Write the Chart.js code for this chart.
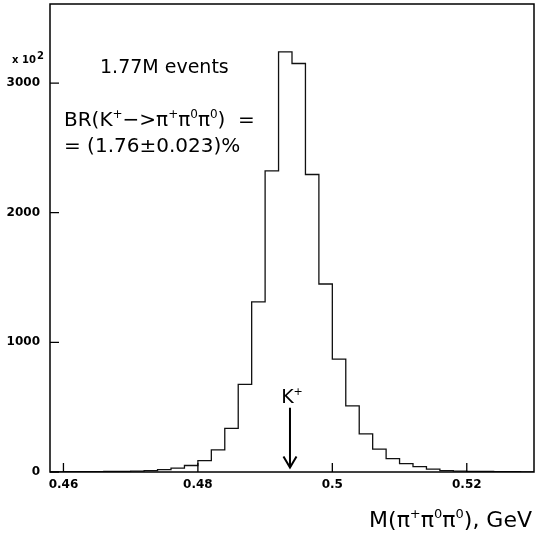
<!DOCTYPE html>
<html>
<head>
<meta charset="utf-8">
<script src="https://cdn.jsdelivr.net/npm/chart.js@4.4.0/dist/chart.umd.min.js"></script>
<style>
  body { margin: 0; background: #fff; }
</style>
</head>
<body>
<canvas id="grafico" width="539" height="540"></canvas>
<script>
// Bordes inferiores de cada bin, en GeV
const binLow = [
  0.458, 0.460, 0.462, 0.464, 0.466, 0.468, 0.470, 0.472, 0.474, 0.476, 0.478, 0.480,
  0.482, 0.484, 0.486, 0.488, 0.490, 0.492, 0.494, 0.496, 0.498, 0.500, 0.502, 0.504,
  0.506, 0.508, 0.510, 0.512, 0.514, 0.516, 0.518, 0.520, 0.522, 0.524, 0.526, 0.528
];
const binHigh = 0.530;

// Cuentas por bin (en unidades de x 10^2)
const cuentas = [
  1, 2, 2, 3, 4, 5, 7, 11, 19, 30, 50, 87,
  170, 337, 676, 1313, 2323, 3241, 3151, 2295, 1450, 870, 510, 294,
  177, 103, 64, 41, 22, 11, 7, 5, 4, 3, 2, 1
];

// Ejes
const xTicks = [0.46, 0.48, 0.50, 0.52];
const xTickLabels = ["0.46", "0.48", "0.5", "0.52"];
const yTicks = [0, 1000, 2000, 3000];
const yMax = 3610;

// Flecha en la masa del K+
const masaK = 0.4937;
const flechaY = [495, 35];

const FUENTE = "'DejaVu Sans', Arial, sans-serif";

// Puntos del histograma (escalonado)
const puntos = binLow.map((x, i) => ({ x: x, y: cuentas[i] }));
puntos.push({ x: binHigh, y: cuentas[cuentas.length - 1] });

// Dibuja texto con superíndices: partes = [[texto, esSup], ...]
function textoRico(ctx, partes, x, y, size, align) {
  const supSize = Math.round(size * 0.6);
  let total = 0;
  partes.forEach(p => {
    ctx.font = (p[1] ? supSize : size) + "px " + FUENTE;
    total += ctx.measureText(p[0]).width;
  });
  let cx = align === "right" ? x - total : (align === "center" ? x - total / 2 : x);
  ctx.textAlign = "left";
  ctx.textBaseline = "alphabetic";
  partes.forEach(p => {
    ctx.font = (p[1] ? supSize : size) + "px " + FUENTE;
    ctx.fillText(p[0], cx, p[1] ? y - size * 0.4 : y);
    cx += ctx.measureText(p[0]).width;
  });
}

const marcoPlugin = {
  id: "marco",
  afterDraw(chart) {
    const ctx = chart.ctx;
    const a = chart.chartArea;
    const sx = chart.scales.x;
    const sy = chart.scales.y;
    ctx.save();
    ctx.strokeStyle = "#000";
    ctx.fillStyle = "#000";
    ctx.lineWidth = 1.5;
    ctx.strokeRect(a.left, a.top, a.right - a.left, a.bottom - a.top);

    // marcas hacia dentro
    ctx.lineWidth = 1.3;
    ctx.beginPath();
    xTicks.forEach(v => {
      const px = sx.getPixelForValue(v);
      ctx.moveTo(px, a.bottom);
      ctx.lineTo(px, a.bottom - 9);
    });
    yTicks.forEach(v => {
      const py = sy.getPixelForValue(v);
      ctx.moveTo(a.left, py);
      ctx.lineTo(a.left + 9, py);
    });
    ctx.stroke();

    // x 10^2
    ctx.font = "bold 10px " + FUENTE;
    ctx.textAlign = "left";
    ctx.textBaseline = "alphabetic";
    ctx.fillText("x 10", 12, 63);
    ctx.fillText("2", 37, 59);

    // anotaciones
    textoRico(ctx, [["1.77M events", false]], 100, 73, 19, "left");
    textoRico(ctx, [["BR(K", false], ["+", true], ["\u2212>\u03c0", false], ["+", true],
      ["\u03c0", false], ["0", true], ["\u03c0", false], ["0", true], [")  =", false]], 64, 126, 20, "left");
    textoRico(ctx, [["= (1.76\u00b10.023)%", false]], 64, 152, 20, "left");

    // flecha K+
    const ax = sx.getPixelForValue(masaK);
    const y0 = sy.getPixelForValue(flechaY[0]);
    const y1 = sy.getPixelForValue(flechaY[1]);
    ctx.lineWidth = 2;
    ctx.beginPath();
    ctx.moveTo(ax, y0);
    ctx.lineTo(ax, y1);
    ctx.moveTo(ax - 6.5, y1 - 11);
    ctx.lineTo(ax, y1);
    ctx.lineTo(ax + 6.5, y1 - 11);
    ctx.stroke();
    textoRico(ctx, [["K", false], ["+", true]], ax + 2, y0 - 5, 19, "center");

    // título eje x
    textoRico(ctx, [["M(\u03c0", false], ["+", true], ["\u03c0", false], ["0", true],
      ["\u03c0", false], ["0", true], ["), GeV", false]], 532, 527, 22, "right");
    ctx.restore();
  }
};

new Chart(document.getElementById("grafico"), {
  type: "line",
  data: {
    datasets: [{
      data: puntos,
      stepped: "before",
      borderColor: "#111",
      borderWidth: 1.3,
      pointRadius: 0,
      fill: false
    }]
  },
  options: {
    responsive: false,
    animation: false,
    layout: { padding: { top: 4, right: 5, left: 0, bottom: 0 } },
    plugins: {
      legend: { display: false },
      tooltip: { enabled: false }
    },
    scales: {
      x: {
        type: "linear",
        min: binLow[0],
        max: binHigh,
        grid: { display: false, drawTicks: false },
        border: { display: false },
        afterBuildTicks: s => { s.ticks = xTicks.map(v => ({ value: v })); },
        afterFit: s => { s.height = 68; s.paddingLeft = 0; s.paddingRight = 0; },
        ticks: {
          padding: 6,
          color: "#000",
          font: { family: FUENTE, size: 12, weight: "bold" },
          maxRotation: 0,
          callback: v => xTickLabels[xTicks.findIndex(t => Math.abs(t - v) < 1e-6)]
        }
      },
      y: {
        min: 0,
        max: yMax,
        grid: { display: false, drawTicks: false },
        border: { display: false },
        afterBuildTicks: s => { s.ticks = yTicks.map(v => ({ value: v })); },
        afterFit: s => { s.width = 50; s.paddingTop = 0; s.paddingBottom = 0; },
        ticks: {
          padding: 10,
          color: "#000",
          font: { family: FUENTE, size: 12, weight: "bold" },
          callback: v => String(v)
        }
      }
    }
  },
  plugins: [marcoPlugin]
});
</script>
</body>
</html>
